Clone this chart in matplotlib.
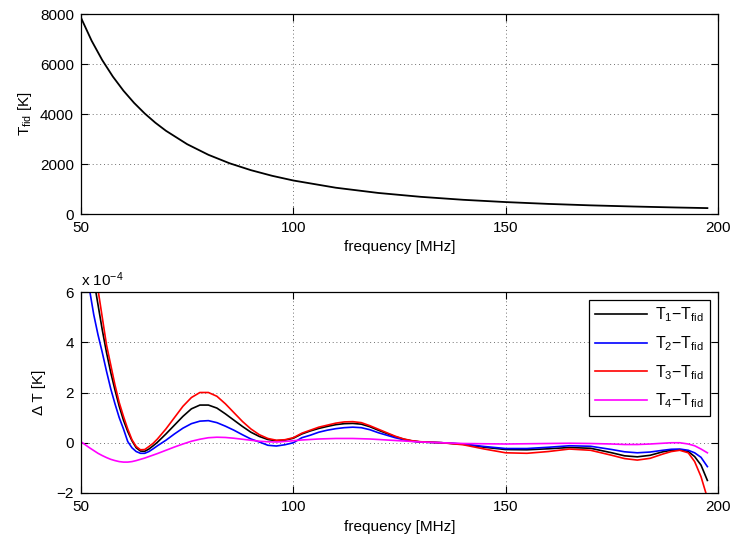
import numpy as np
import matplotlib
matplotlib.use('Agg')
import matplotlib.pyplot as plt
from matplotlib.ticker import FixedLocator

plt.rcParams['font.family'] = ['Liberation Sans', 'DejaVu Sans']
plt.rcParams['mathtext.default'] = 'regular'
plt.rcParams['font.size'] = 10.5

# ----------------------------------------------------------------------
# Data
# ----------------------------------------------------------------------
freq_fid = [50, 52.5, 55, 57.5, 60, 62.5, 65, 67.5, 70, 75, 80, 85, 90, 95,
            100, 110, 120, 130, 140, 150, 160, 170, 180, 190, 197.5]
t_fid = [7850, 6931, 6156, 5497, 4931, 4444, 4021, 3652, 3329, 2792, 2368,
         2028, 1754, 1528, 1340, 1051, 842, 687, 568, 477, 404, 346, 300,
         261, 236]

freq_d = [50, 51, 52, 53, 54, 55, 56, 57, 58, 59, 60, 61, 62, 63, 64, 65, 66,
          67, 68, 70, 72, 74, 76, 78, 80, 82, 84, 86, 88, 90, 92, 94, 96, 98,
          100, 102, 104, 106, 108, 110, 112, 114, 116, 118, 120, 122, 124,
          126, 128, 130, 135, 140, 145, 150, 155, 160, 165, 170, 175, 178,
          181, 184, 187, 189, 191, 193, 194.5, 196, 197.5]

# differences in units of 1e-4 K
dT1 = [10.5, 9.0, 7.7, 6.5, 5.5, 4.5, 3.6, 2.8, 2.1, 1.45, 0.9, 0.45, 0.08,
       -0.2, -0.33, -0.34, -0.25, -0.12, 0.02, 0.35, 0.7, 1.05, 1.35, 1.5,
       1.5, 1.38, 1.15, 0.9, 0.65, 0.42, 0.25, 0.13, 0.08, 0.1, 0.18, 0.35,
       0.47, 0.57, 0.65, 0.72, 0.76, 0.77, 0.74, 0.64, 0.5, 0.37, 0.24, 0.14,
       0.07, 0.03, 0.0, -0.06, -0.18, -0.27, -0.28, -0.24, -0.19, -0.22,
       -0.4, -0.52, -0.56, -0.5, -0.36, -0.3, -0.28, -0.35, -0.55, -0.89,
       -1.5]
dT2 = [8.5, 7.2, 6.1, 5.1, 4.3, 3.6, 2.85, 2.15, 1.55, 1.0, 0.55, 0.05, -0.2,
       -0.35, -0.42, -0.42, -0.35, -0.24, -0.12, 0.1, 0.35, 0.58, 0.76, 0.86,
       0.88, 0.8, 0.66, 0.5, 0.32, 0.15, 0.03, -0.1, -0.13, -0.08, 0.0, 0.2,
       0.3, 0.42, 0.5, 0.56, 0.6, 0.62, 0.6, 0.52, 0.4, 0.3, 0.2, 0.12, 0.06,
       0.03, 0.0, -0.05, -0.15, -0.23, -0.23, -0.18, -0.12, -0.14, -0.27,
       -0.36, -0.4, -0.37, -0.3, -0.26, -0.25, -0.3, -0.4, -0.58, -0.95]
dT3 = [11.0, 9.7, 8.3, 7.1, 6.1, 5.0, 3.9, 3.1, 2.3, 1.6, 1.05, 0.55, 0.12,
       -0.15, -0.28, -0.27, -0.15, -0.02, 0.15, 0.55, 1.0, 1.45, 1.8, 2.0,
       2.0, 1.85, 1.55, 1.2, 0.85, 0.55, 0.32, 0.17, 0.1, 0.12, 0.2, 0.38,
       0.5, 0.62, 0.7, 0.78, 0.83, 0.84, 0.8, 0.68, 0.54, 0.4, 0.26, 0.15,
       0.08, 0.04, 0.0, -0.08, -0.25, -0.4, -0.42, -0.35, -0.25, -0.3, -0.5,
       -0.63, -0.69, -0.62, -0.45, -0.35, -0.3, -0.4, -0.75, -1.35, -2.2]
dT4 = [0.04, -0.08, -0.2, -0.31, -0.42, -0.51, -0.59, -0.66, -0.71, -0.75,
       -0.77, -0.77, -0.75, -0.71, -0.66, -0.61, -0.55, -0.49, -0.43, -0.3,
       -0.17, -0.05, 0.06, 0.14, 0.2, 0.22, 0.21, 0.18, 0.14, 0.1, 0.06,
       0.04, 0.03, 0.05, 0.08, 0.11, 0.13, 0.15, 0.16, 0.17, 0.17, 0.17,
       0.16, 0.15, 0.13, 0.11, 0.09, 0.07, 0.05, 0.03, 0.0, -0.03, -0.04,
       -0.05, -0.04, -0.03, -0.02, -0.03, -0.05, -0.07, -0.07, -0.05, -0.02,
       0.0, 0.0, -0.05, -0.12, -0.25, -0.4]

labels = ['$T_1$\u2212$T_{fid}$', '$T_2$\u2212$T_{fid}$',
          '$T_3$\u2212$T_{fid}$', '$T_4$\u2212$T_{fid}$']
colors = ['black', 'blue', 'red', 'magenta']

xticks = [50, 100, 150, 200]
yticks_top = [0, 2000, 4000, 6000, 8000]
yticks_bot = [-2, 0, 2, 4, 6]


def style(ax):
    ax.tick_params(direction='in', length=5, width=0.8, top=True, right=True,
                   labelsize=11, pad=5)
    ax.grid(True, color='0.25', linestyle=(0, (1, 3.5)), linewidth=0.6)
    for s in ax.spines.values():
        s.set_linewidth(0.9)


fig = plt.figure(figsize=(7.33, 5.35), dpi=100)

# top panel
ax1 = fig.add_axes([81 / 733, 1 - 214 / 535, 637 / 733, 200 / 535])
ax1.plot(freq_fid, t_fid, color='black', lw=1.3)
ax1.set_xlim(50, 200)
ax1.set_ylim(0, 8000)
ax1.xaxis.set_major_locator(FixedLocator(xticks))
ax1.yaxis.set_major_locator(FixedLocator(yticks_top))
ax1.set_xlabel('frequency [MHz]', labelpad=4, fontsize=11)
ax1.set_ylabel('$T_{fid}$ [K]', labelpad=4, fontsize=11)
style(ax1)

# bottom panel
ax2 = fig.add_axes([81 / 733, 1 - 493 / 535, 637 / 733, 201 / 535])
f = np.array(freq_d)
for d, c, lab in zip([dT1, dT2, dT3, dT4], colors, labels):
    ax2.plot(f, np.array(d) * 1e-4, color=c, lw=1.2, label=lab)
ax2.set_xlim(50, 200)
ax2.set_ylim(-2e-4, 6e-4)
ax2.xaxis.set_major_locator(FixedLocator(xticks))
ax2.set_yticks([v * 1e-4 for v in yticks_bot])
ax2.set_yticklabels([str(v).replace('-', '\u2212') for v in yticks_bot])
ax2.text(0.0, 1.015, 'x 10$^{\u22124}$', transform=ax2.transAxes,
         ha='left', va='bottom', fontsize=11)
ax2.set_xlabel('frequency [MHz]', labelpad=4, fontsize=11)
ax2.set_ylabel('\u0394 T [K]', labelpad=8, fontsize=11)
style(ax2)

leg = ax2.legend(loc='upper right', bbox_to_anchor=(0.9875, 0.96),
                 fancybox=False, framealpha=1, edgecolor='black',
                 borderpad=0.35, labelspacing=0.62, handlelength=3.3,
                 handletextpad=0.5, borderaxespad=0.0, fontsize=11.5)
leg.get_frame().set_linewidth(0.9)

fig.savefig('out.png', dpi=100)
